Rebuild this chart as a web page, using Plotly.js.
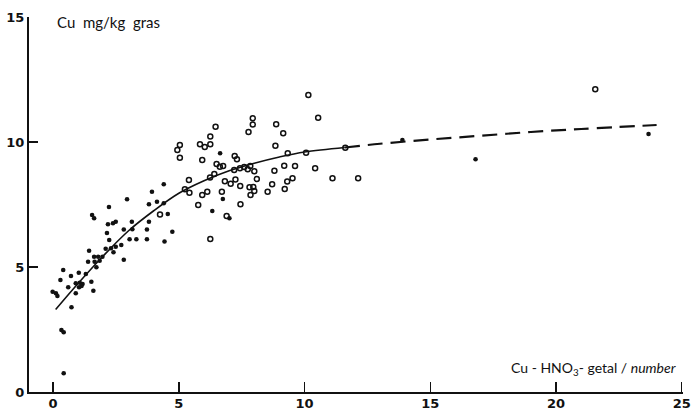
<!DOCTYPE html>
<html>
<head>
<meta charset="utf-8">
<script src="https://cdn.plot.ly/plotly-3.0.1.min.js"></script>
<style>html,body{margin:0;padding:0;background:#fff}#chart{width:691px;height:410px}</style>
</head>
<body>
<div id="chart"></div>
<script>
// Filled dots
const filledX = [-0.02,0.11,0.17,0.29,0.40,0.71,0.60,0.73,0.33,0.42,0.42,0.90,0.90,1.06,1.17,1.03,1.13,1.02,1.30,1.52,1.60,1.39,1.43,1.63,1.65,1.79,1.85,1.96,1.72,1.55,1.63,2.09,2.14,2.23,2.30,2.40,2.49,2.18,2.38,2.49,2.22,2.71,2.81,2.81,2.94,3.04,3.13,3.15,3.31,3.73,3.73,3.81,3.81,3.93,4.13,4.40,4.40,4.43,4.56,4.74,6.33,6.64,6.75,7.01,13.89,16.80,23.68];
const filledY = [4.01,3.95,3.84,4.48,4.88,4.64,4.19,3.39,2.48,2.39,0.75,3.95,4.35,4.37,4.32,4.19,4.24,4.77,4.72,4.41,4.05,5.21,5.65,5.41,5.21,5.41,5.25,5.41,4.99,7.08,6.95,5.73,6.36,6.08,5.75,5.59,5.81,6.71,6.75,6.81,7.40,5.88,5.29,6.50,7.71,6.11,6.81,6.51,6.11,6.11,6.50,6.81,7.51,8.01,7.61,7.55,8.31,6.02,7.12,6.41,7.24,9.55,7.72,6.95,10.08,9.31,10.32];
// Open circles
const openX = [4.25,4.94,5.04,5.04,5.40,5.24,5.42,5.84,6.03,6.25,6.25,6.46,5.93,5.93,6.13,5.77,6.24,6.41,6.25,6.50,6.63,6.76,6.71,6.83,7.06,7.25,7.22,7.31,7.20,7.43,7.60,7.74,7.84,7.77,7.94,7.94,8.00,8.10,7.44,7.81,7.96,8.00,7.85,7.45,8.87,9.15,8.84,9.33,10.06,10.15,10.54,11.62,8.80,9.19,9.62,10.42,9.52,9.31,8.71,9.21,8.53,11.11,12.13,21.56,6.90];
const openY = [7.10,9.68,9.88,9.37,8.48,8.11,7.97,9.91,9.80,9.91,10.22,10.61,9.28,7.88,8.01,7.48,8.58,8.72,6.12,9.12,9.01,9.04,8.01,8.43,8.33,8.50,9.44,9.31,8.88,8.95,9.00,8.91,9.04,10.40,10.95,10.70,8.83,8.52,8.24,8.19,8.20,8.04,7.88,7.51,10.71,10.35,9.85,9.55,9.57,11.88,10.97,9.77,8.85,9.05,9.04,8.95,8.55,8.42,8.31,8.12,8.01,8.55,8.55,12.11,7.04];
// Fitted curve (solid part and dashed extrapolation)
const fitSolidX = [0.1,1.0,2.0,3.0,4.0,5.0,6.0,7.0,8.0,9.0,10.0,11.6];
const fitSolidY = [3.30,4.35,5.45,6.45,7.25,7.95,8.45,8.85,9.15,9.40,9.60,9.78];
const fitDashX = [11.6,13.0,15.0,17.0,19.0,21.0,24.0];
const fitDashY = [9.78,9.93,10.10,10.25,10.40,10.52,10.68];
const xTicks = [0,5,10,15,20,25];
const yTicks = [0,5,10,15];

const ink = '#111';
const traces = [
  {x: fitSolidX, y: fitSolidY, mode: 'lines', line: {color: ink, width: 1.6, shape: 'spline'}, hoverinfo: 'skip'},
  {x: fitDashX, y: fitDashY, mode: 'lines', line: {color: ink, width: 2.2, shape: 'spline', dash: '15px,8px'}, hoverinfo: 'skip'},
  {x: filledX, y: filledY, mode: 'markers', marker: {symbol: 'circle', size: 4.6, color: ink}},
  {x: openX, y: openY, mode: 'markers', marker: {symbol: 'circle-open', size: 5, color: ink, line: {width: 1.5, color: ink}}}
];
const tickFont = {family: '"DejaVu Sans", Lato, sans-serif', size: 13, color: ink, weight: 700};
const layout = {
  width: 691, height: 410,
  margin: {l: 29, r: 8, t: 17, b: 18},
  paper_bgcolor: '#fff', plot_bgcolor: '#fff',
  showlegend: false,
  xaxis: {range: [-0.96, 25.05], tickvals: xTicks, ticktext: xTicks.map(String), ticks: 'inside', ticklen: 10, tickwidth: 1.5, tickcolor: ink,
          showline: true, linecolor: ink, linewidth: 2, showgrid: false, zeroline: false, tickfont: tickFont, automargin: false, ticklabelstandoff: -2},
  yaxis: {range: [0, 15], tickvals: yTicks, ticktext: yTicks.map(String), ticks: 'inside', ticklen: 9, tickwidth: 2, tickcolor: ink,
          showline: true, linecolor: ink, linewidth: 2, showgrid: false, zeroline: false, tickfont: tickFont, automargin: false},
  annotations: [
    {text: 'Cu  mg/kg  gras', xref: 'paper', yref: 'paper', x: 0.04, y: 0.987, xanchor: 'left', yanchor: 'middle', showarrow: false,
     font: {family: 'Lato, "DejaVu Sans", sans-serif', size: 15, color: ink}},
    {text: 'Cu - HNO<sub>3</sub>- getal / <i>number</i>', xref: 'paper', yref: 'paper', x: 0.993, y: 0.062, xanchor: 'right', yanchor: 'middle', showarrow: false,
     font: {family: 'Lato, "DejaVu Sans", sans-serif', size: 14, color: ink}}
  ]
};
Plotly.newPlot('chart', traces, layout, {staticPlot: true, displayModeBar: false});
</script>
</body>
</html>
